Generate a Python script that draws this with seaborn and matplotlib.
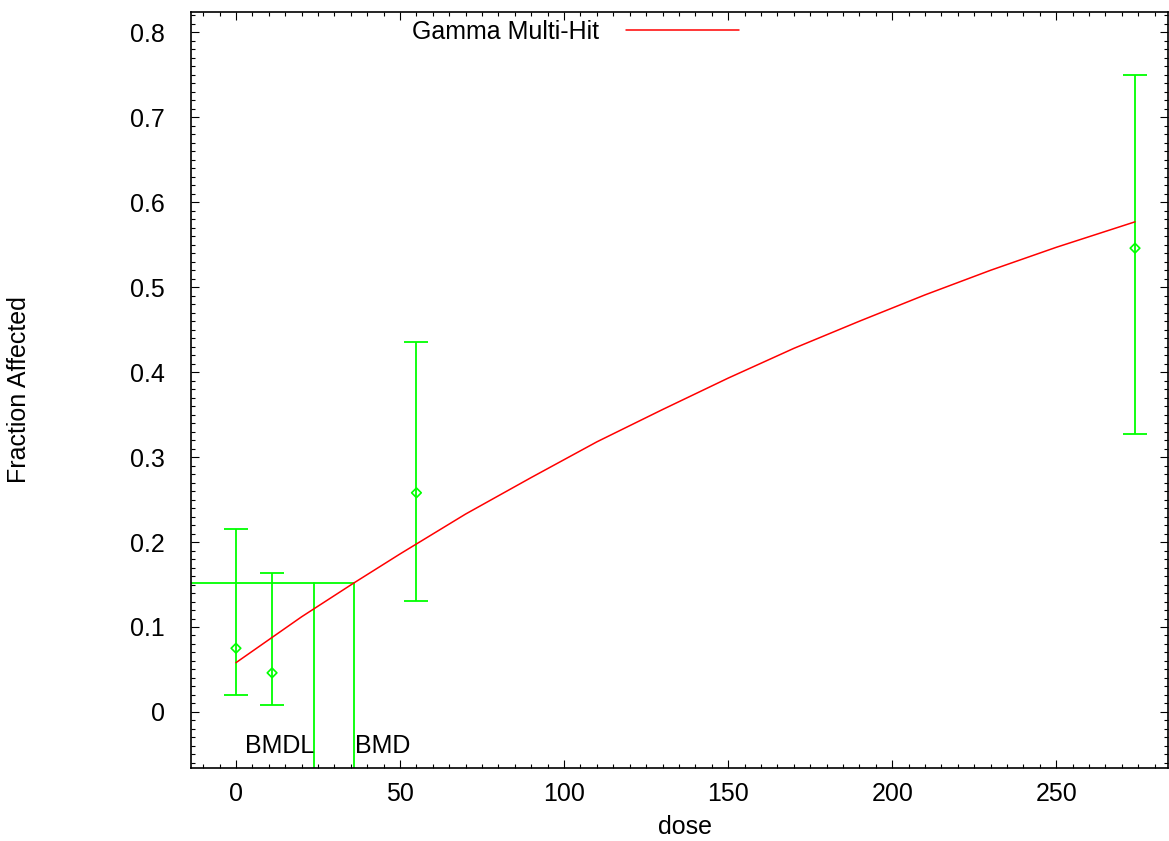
import matplotlib
matplotlib.use("Agg")
import matplotlib.pyplot as plt
import seaborn as sns
import numpy as np
from matplotlib.ticker import MultipleLocator

# observed data (dose, fraction, lower / upper CI)
dose = [0, 11, 55, 274]
frac = [0.075, 0.046, 0.258, 0.546]
ci_low = [0.020, 0.008, 0.131, 0.327]
ci_high = [0.215, 0.164, 0.436, 0.750]

# fitted Gamma Multi-Hit curve
curve_dose = [0, 10, 20, 36, 50, 70, 90, 110, 130, 150, 170, 190, 210, 230, 250, 274]
curve_frac = [0.058, 0.085, 0.112, 0.152, 0.186, 0.233, 0.276, 0.318, 0.356,
              0.393, 0.428, 0.460, 0.491, 0.520, 0.547, 0.577]

bmr = 0.1516
bmd = 35.9
bmdl = 23.9

FS = 18

sns.set_style("ticks")
plt.rcParams['font.family'] = ['Liberation Sans', 'DejaVu Sans']
plt.rcParams['font.size'] = FS
plt.rcParams['text.color'] = 'black'
plt.rcParams['axes.labelcolor'] = 'black'
plt.rcParams['xtick.color'] = 'black'
plt.rcParams['ytick.color'] = 'black'

f, ax = plt.subplots(1, 1, figsize=(11.69, 8.41), dpi=100)
f.subplots_adjust(left=0.1634, right=0.999, top=0.9857, bottom=0.0868)

green = "#00ff00"

# BMR / BMD / BMDL lines
ax.plot([-13.7, bmd], [bmr, bmr], color=green, lw=1.3)
ax.plot([bmdl, bmdl], [bmr, -0.066], color=green, lw=1.3)
ax.plot([bmd, bmd], [bmr, -0.066], color=green, lw=1.3)
ax.text(bmdl, -0.0397, "BMDL", ha="right", va="center", fontsize=FS)
ax.text(bmd + 0.3, -0.0397, "BMD", ha="left", va="center", fontsize=FS)

# error bars and points
yerr = [np.array(frac) - np.array(ci_low), np.array(ci_high) - np.array(frac)]
ax.errorbar(dose, frac, yerr=yerr, fmt="none", ecolor=green, elinewidth=1.3,
            capsize=8.6, capthick=1.3)
ax.scatter(dose, frac, marker="D", s=24, facecolors="none", edgecolors=green,
           linewidths=1.2, zorder=3)

# fitted curve
sns.lineplot(x=curve_dose, y=curve_frac, ax=ax, color="red", lw=1.1,
             label="Gamma Multi-Hit")

ax.set_xlim(-13.7, 284)
ax.set_ylim(-0.066, 0.824)
ax.xaxis.set_major_locator(MultipleLocator(50))
ax.xaxis.set_minor_locator(MultipleLocator(5))
ax.yaxis.set_major_locator(MultipleLocator(0.1))
ax.yaxis.set_minor_locator(MultipleLocator(0.01))
ax.set_yticks(ax.get_yticks())
ax.set_yticklabels([("0" if abs(v) < 1e-9 else "%.1f" % v) for v in ax.get_yticks()])
ax.set_ylim(-0.066, 0.824)

ax.tick_params(which="both", direction="in", top=True, right=True, width=0.8,
               labelsize=FS)
ax.tick_params(which="major", length=6)
ax.tick_params(which="minor", length=3)
ax.tick_params(axis="x", which="major", pad=10)
ax.tick_params(axis="y", which="major", pad=19)
for s in ax.spines.values():
    s.set_linewidth(1.2)
    s.set_color("black")

ax.set_xlabel("dose", fontsize=FS)
ax.xaxis.set_label_coords(0.506, -0.062)
ax.set_ylabel("Fraction Affected", fontsize=FS)
ax.yaxis.set_label_coords(-0.164, 0.5)

ax.legend(loc="center", bbox_to_anchor=(0.492, 0.962), bbox_transform=f.transFigure,
          frameon=False, markerfirst=False, handlelength=4.5, handletextpad=1.1,
          fontsize=FS)

f.savefig("out.png", dpi=100)
